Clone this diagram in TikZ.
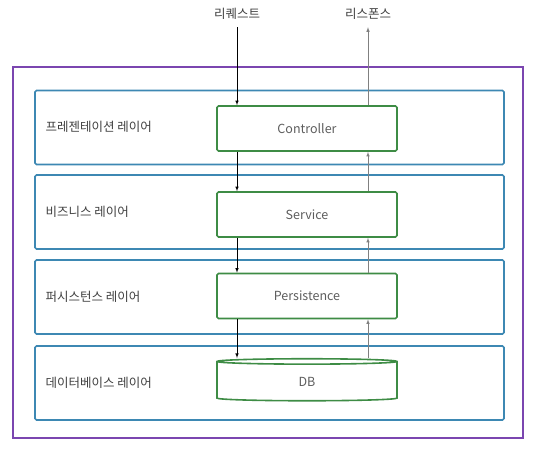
\documentclass[tikz,border=0pt]{standalone}
\usepackage{fontspec}
\setmainfont{Noto Sans CJK KR}
\usetikzlibrary{shapes.geometric,arrows,positioning}

\definecolor{outerc}{HTML}{7B46B0}
\definecolor{layerc}{HTML}{3D88B3}
\definecolor{compc}{HTML}{3E8C45}
\definecolor{txtc}{HTML}{404040}

\begin{document}
\begin{tikzpicture}[x=1pt,y=-1pt,>=latex]
            \tikzstyle{layer}=[rectangle,draw=layerc,line width=1.6pt,rounded corners=1.5pt,minimum width=469pt,minimum height=74pt]
            \tikzstyle{comp}=[rectangle,draw=compc,line width=1.6pt,rounded corners=1.5pt,minimum width=180pt,minimum height=45pt,font=\fontsize{12.5}{14}\selectfont,text=txtc!85]
            \tikzstyle{lbl}=[font=\fontsize{12.5}{14}\selectfont,text=txtc,anchor=west]
            \tikzstyle{req}=[black,semithick]    % request flow
            \tikzstyle{res}=[gray,semithick]     % response flow

            \useasboundingbox (0,0) rectangle (537,449);

            % outer box
            \node[draw=outerc,line width=1.8pt,minimum width=510pt,minimum height=371pt] (app) at (268,252.5) {};

            % layers
            \node[layer] (L1) at (269.5,127.5) {};
            \node[layer] (L2) at (269.5,212) {};
            \node[layer] (L3) at (269.5,297) {};
            \node[layer] (L4) at (269.5,383) {};

            \node[lbl] (t1) at (42,127) {프레젠테이션 레이어};
            \node[lbl] (t2) at (42,212) {비즈니스 레이어};
            \node[lbl] (t3) at (42,297) {퍼시스턴스 레이어};
            \node[lbl] (t4) at (42,383) {데이터베이스 레이어};

            % components
            \node[comp] (ctrl) at (307,128.5) {Controller};
            \node[comp] (svc) at (307,214.5) {Service};
            \node[comp] (pers) at (307,296) {Persistence};
            \node[cylinder,shape border rotate=90,aspect=0.32,draw=compc,line width=1.6pt,minimum width=180pt,minimum height=42pt,inner sep=0pt,text=txtc!85,font=\fontsize{12.5}{14}\selectfont] (db) at (307,381.5) {DB};

            % request / response labels
            \node[font=\fontsize{12.5}{14}\selectfont,text=txtc] (rq) at (237,14) {리퀘스트};
            \node[font=\fontsize{12.5}{14}\selectfont,text=txtc] (rs) at (368,14) {리스폰스};

            \draw[req,->,shorten <=4pt] (rq) -- (rq |- ctrl.north);
            \draw[req,->] (ctrl.south -| rq) -- (svc.north -| rq);
            \draw[req,->] (svc.south -| rq) -- (pers.north -| rq);
            \draw[req,->] (pers.south -| rq) -- (db.north -| rq);

            \draw[res,->] (db.north -| rs) -- (pers.south -| rs);
            \draw[res,->] (pers.north -| rs) -- (svc.south -| rs);
            \draw[res,->] (svc.north -| rs) -- (ctrl.south -| rs);
            \draw[res,->,shorten >=4pt] (ctrl.north -| rs) -- (rs);
        \end{tikzpicture}
\end{document}
